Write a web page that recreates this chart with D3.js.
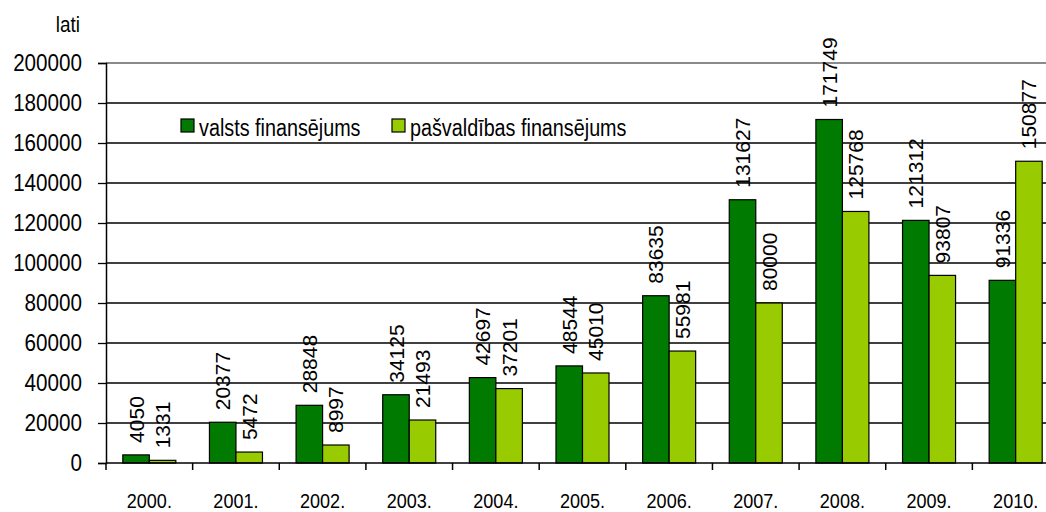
<!DOCTYPE html>
<html>
<head>
<meta charset="utf-8">
<script src="https://cdn.jsdelivr.net/npm/d3@7"></script>
<style>
  html, body { margin: 0; padding: 0; background: #fff; }
  svg { display: block; font-family: Arial, "Liberation Sans", sans-serif; }
</style>
</head>
<body>
<svg id="chart" width="1046" height="512"></svg>
<script>
// Funding by year, lati
const years = ["2000.", "2001.", "2002.", "2003.", "2004.", "2005.", "2006.", "2007.", "2008.", "2009.", "2010."];
const valsts = [4050, 20377, 28848, 34125, 42697, 48544, 83635, 131627, 171749, 121312, 91336];
const pasvaldibas = [1331, 5472, 8997, 21493, 37201, 45010, 55981, 80000, 125768, 93807, 150877];
const seriesNames = ["valsts finansējums", "pašvaldības finansējums"];
const seriesKeys = ["valsts", "pasvaldibas"];
const yTicks = [0, 20000, 40000, 60000, 80000, 100000, 120000, 140000, 160000, 180000, 200000];
const unitLabel = "lati";

const colors = { valsts: "#007a00", pasvaldibas: "#99cc00" };
const narrow = 0.86;

const rows = years.map((yr, i) => ({ year: yr, valsts: valsts[i], pasvaldibas: pasvaldibas[i] }));

const svg = d3.select("#chart");
const plotLeft = 106, plotRight = 1059, plotTop = 63, plotBottom = 463;

const x0 = d3.scaleBand().domain(years).range([plotLeft, plotRight])
  .paddingInner(0.388).paddingOuter(0.194);
const x1 = d3.scaleBand().domain(seriesKeys).range([0, x0.bandwidth()]);
const y = d3.scaleLinear().domain([0, 200000]).range([plotBottom, plotTop]);

// horizontal grid lines
svg.append("g").selectAll("line")
  .data(yTicks.filter(d => d > 0))
  .join("line")
  .attr("x1", plotLeft).attr("x2", plotRight)
  .attr("y1", d => y(d)).attr("y2", d => y(d))
  .attr("stroke", d => d === 200000 ? "#8a8a8a" : "#000")
  .attr("stroke-width", d => d === 200000 ? 2 : 1.3);

// y axis
const yAxis = svg.append("g")
  .attr("transform", `translate(${plotLeft},0)`)
  .call(d3.axisLeft(y).tickValues(yTicks).tickFormat(d3.format("d")).tickSize(8).tickPadding(16));
yAxis.select(".domain").attr("stroke", "#000").attr("stroke-width", 1.5);
yAxis.selectAll(".tick line").attr("stroke", "#000").attr("stroke-width", 1.3);
yAxis.selectAll(".tick text")
  .attr("font-size", 24).attr("fill", "#000").attr("font-family", "Arial, 'Liberation Sans', sans-serif")
  .each(function () {
    const t = d3.select(this);
    const xx = +t.attr("x");
    t.attr("x", 0).attr("transform", `translate(${xx},0) scale(${narrow},1)`);
  });

// bars
const groups = svg.append("g").selectAll("g")
  .data(rows)
  .join("g")
  .attr("transform", d => `translate(${x0(d.year)},0)`);

groups.selectAll("rect")
  .data(d => seriesKeys.map(k => ({ key: k, value: d[k] })))
  .join("rect")
  .attr("x", d => x1(d.key))
  .attr("y", d => y(d.value))
  .attr("width", x1.bandwidth())
  .attr("height", d => y(0) - y(d.value))
  .attr("fill", d => colors[d.key])
  .attr("stroke", "#000")
  .attr("stroke-width", 1.2);

// x axis
const xAxisG = svg.append("g");
xAxisG.append("line")
  .attr("x1", plotLeft).attr("x2", plotRight)
  .attr("y1", plotBottom).attr("y2", plotBottom)
  .attr("stroke", "#000").attr("stroke-width", 1.5);
const step = x0.step();
xAxisG.selectAll("line.tk")
  .data(d3.range(years.length + 1))
  .join("line")
  .attr("class", "tk")
  .attr("x1", i => plotLeft + i * step).attr("x2", i => plotLeft + i * step)
  .attr("y1", plotBottom).attr("y2", plotBottom + 7)
  .attr("stroke", "#000").attr("stroke-width", 1.5);
xAxisG.selectAll("text")
  .data(years)
  .join("text")
  .attr("transform", d => `translate(${x0(d) + x0.bandwidth() / 2},508) scale(${narrow},1)`)
  .attr("text-anchor", "middle")
  .attr("font-size", 21)
  .attr("fill", "#000")
  .text(d => d);

// value labels, rotated
groups.selectAll("text")
  .data(d => seriesKeys.map(k => ({ key: k, value: d[k] })))
  .join("text")
  .attr("transform", d => `translate(${x1(d.key) + x1.bandwidth() / 2},${y(d.value) - 12}) rotate(-90)`)
  .attr("text-anchor", "start")
  .attr("dy", "0.36em")
  .attr("font-size", 21)
  .attr("fill", "#000")
  .text(d => d.value);

// unit label
svg.append("text")
  .attr("transform", `translate(80,32) scale(${narrow},1)`)
  .attr("text-anchor", "end")
  .attr("font-size", 22)
  .attr("fill", "#000")
  .text(unitLabel);

// legend
const legendX = [181, 392];
const legend = svg.append("g").selectAll("g")
  .data(seriesKeys)
  .join("g")
  .attr("transform", (d, i) => `translate(${legendX[i]},119)`);
legend.append("rect")
  .attr("width", 13).attr("height", 13)
  .attr("fill", d => colors[d])
  .attr("stroke", "#000").attr("stroke-width", 1.2);
legend.append("text")
  .attr("transform", `translate(18,17) scale(${narrow},1)`)
  .attr("font-size", 23)
  .attr("fill", "#000")
  .text((d, i) => seriesNames[i]);
</script>
</body>
</html>
